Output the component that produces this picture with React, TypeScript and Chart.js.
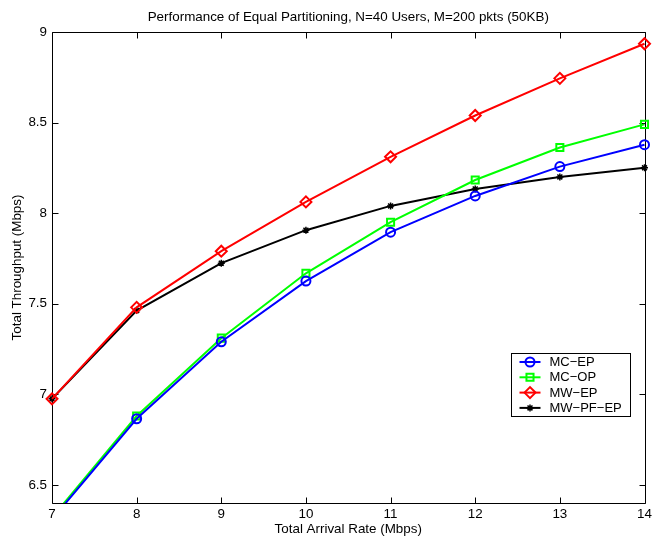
import React, { useEffect, useRef } from 'react';
import { Chart, registerables } from 'chart.js';
import { drawPoint } from 'chart.js/helpers';

Chart.register(...registerables);

const arrivalRates = [7, 8, 9, 10, 11, 12, 13, 14];
const mcEp = [6.31, 6.865, 7.29, 7.625, 7.895, 8.095, 8.257, 8.378];
const mcOp = [6.32, 6.88, 7.31, 7.668, 7.95, 8.183, 8.362, 8.49];
const mwEp = [6.975, 7.48, 7.79, 8.062, 8.311, 8.539, 8.744, 8.935];
const mwPfEp = [6.975, 7.462, 7.724, 7.906, 8.04, 8.133, 8.2, 8.25];
const xTicks = [7, 8, 9, 10, 11, 12, 13, 14];
const yTicks = [6.5, 7, 7.5, 8, 8.5, 9];
const seriesNames = ['MC\u2212EP', 'MC\u2212OP', 'MW\u2212EP', 'MW\u2212PF\u2212EP'];

const FONT = "'Liberation Sans', Arial, Helvetica, sans-serif";
const FS = 13.4;

const framePlugin = {
  id: 'matlabFrame',
  beforeDatasetsDraw(chart: any) {
    const { ctx, chartArea, scales } = chart;
    const l = Math.round(chartArea.left) + 0.5;
    const r = Math.round(chartArea.right) + 0.5;
    const t = Math.round(chartArea.top) + 0.5;
    const b = Math.round(chartArea.bottom) + 0.5;
    ctx.save();
    ctx.strokeStyle = '#000';
    ctx.lineWidth = 1;
    ctx.beginPath();
    ctx.rect(l, t, r - l, b - t);
    const tl = 6;
    xTicks.forEach((v) => {
      const px = Math.round(scales.x.getPixelForValue(v)) + 0.5;
      ctx.moveTo(px, b);
      ctx.lineTo(px, b - tl);
      ctx.moveTo(px, t);
      ctx.lineTo(px, t + tl);
    });
    yTicks.forEach((v) => {
      const py = Math.round(scales.y.getPixelForValue(v)) + 0.5;
      ctx.moveTo(l, py);
      ctx.lineTo(l + tl, py);
      ctx.moveTo(r, py);
      ctx.lineTo(r - tl, py);
    });
    ctx.stroke();
    ctx.restore();
  },
};

const legendPlugin = {
  id: 'boxLegend',
  afterDraw(chart: any) {
    const { ctx, chartArea } = chart;
    const w = 119;
    const h = 63;
    const x0 = Math.round(chartArea.right - 15 - w) + 0.5;
    const y0 = Math.round(chartArea.bottom - 87 - h) + 0.5;
    ctx.save();
    ctx.fillStyle = '#fff';
    ctx.fillRect(x0, y0, w, h);
    ctx.strokeStyle = '#000';
    ctx.lineWidth = 1;
    ctx.strokeRect(x0, y0, w, h);
    chart.data.datasets.forEach((ds: any, i: number) => {
      const cy = y0 + 8.5 + i * 15.3;
      ctx.strokeStyle = ds.borderColor;
      ctx.lineWidth = 2;
      ctx.beginPath();
      ctx.moveTo(x0 + 8, cy);
      ctx.lineTo(x0 + 29, cy);
      ctx.stroke();
      ctx.strokeStyle = ds.pointBorderColor;
      ctx.fillStyle = 'rgba(0,0,0,0)';
      ctx.lineWidth = ds.pointBorderWidth;
      drawPoint(ctx, { pointStyle: ds.pointStyle, radius: ds.pointRadius, borderWidth: ds.pointBorderWidth, rotation: 0 } as any, x0 + 18.5, cy);
      ctx.fillStyle = '#000';
      ctx.font = `13px ${FONT}`;
      ctx.textBaseline = 'middle';
      ctx.textAlign = 'left';
      ctx.fillText(ds.label, x0 + 38, cy + 0.5);
    });
    ctx.restore();
  },
};

function makeSeries(label: string, values: number[], color: string, style: string, radius: number, pbw: number) {
  return {
    label,
    data: arrivalRates.map((x, i) => ({ x, y: values[i] })),
    borderColor: color,
    backgroundColor: color,
    borderWidth: 2,
    pointStyle: style,
    pointRadius: radius,
    pointHoverRadius: radius,
    pointBorderColor: color,
    pointBackgroundColor: 'rgba(0,0,0,0)',
    pointBorderWidth: pbw,
    tension: 0,
    fill: false,
    clip: { left: 8, top: 8, right: 8, bottom: 0 },
  };
}

const noPadding = () => ({ left: 0, top: 0, right: 0, bottom: 0 });

export default function App() {
  const canvasRef = useRef<HTMLCanvasElement | null>(null);

  useEffect(() => {
    if (!canvasRef.current) return;
    const chart = new Chart(canvasRef.current, {
      type: 'line',
      data: {
        datasets: [
          makeSeries(seriesNames[0], mcEp, '#0000ff', 'circle', 4.5, 2),
          makeSeries(seriesNames[1], mcOp, '#00ff00', 'rect', 5, 2),
          makeSeries(seriesNames[2], mwEp, '#ff0000', 'rectRot', 5.5, 2),
          makeSeries(seriesNames[3], mwPfEp, '#000000', 'star', 3.5, 1.5),
        ] as any,
      },
      options: {
        responsive: false,
        animation: false,
        devicePixelRatio: 1,
        layout: { padding: { top: 0, right: 5, bottom: 0, left: 0 } },
        plugins: {
          legend: { display: false },
          tooltip: { enabled: false },
          title: {
            display: true,
            fullSize: false,
            text: 'Performance of Equal Partitioning, N=40 Users, M=200 pkts (50KB)',
            color: '#000',
            font: { family: FONT, size: FS, weight: 'normal' },
            padding: { top: 9, bottom: 6.9 },
          },
        },
        scales: {
          x: {
            type: 'linear',
            min: 7,
            max: 14,
            grid: { display: false, drawTicks: false, tickLength: 0 },
            border: { display: false },
            afterBuildTicks: (axis: any) => {
              axis.ticks = xTicks.map((v) => ({ value: v }));
            },
            afterFit: (axis: any) => {
              axis.height = 35;
              axis.paddingLeft = 0;
              axis.paddingRight = 0;
              axis.getPadding = noPadding;
            },
            ticks: {
              color: '#000',
              padding: 3,
              maxRotation: 0,
              autoSkip: false,
              font: { family: FONT, size: FS },
              callback: (v: any) => String(v),
            },
            title: {
              display: true,
              text: 'Total Arrival Rate (Mbps)',
              color: '#000',
              font: { family: FONT, size: FS },
              padding: { top: 0, bottom: 1 },
            },
          },
          y: {
            type: 'linear',
            min: 6.4,
            max: 9,
            grid: { display: false, drawTicks: false, tickLength: 0 },
            border: { display: false },
            afterBuildTicks: (axis: any) => {
              axis.ticks = yTicks.map((v) => ({ value: v }));
            },
            afterFit: (axis: any) => {
              axis.width = 52;
              axis.paddingTop = 0;
              axis.paddingBottom = 0;
              axis.getPadding = noPadding;
            },
            ticks: {
              color: '#000',
              padding: 5,
              autoSkip: false,
              font: { family: FONT, size: FS },
              callback: (v: any) => String(v),
            },
            title: {
              display: true,
              text: 'Total Throughput (Mbps)',
              color: '#000',
              font: { family: FONT, size: FS },
              padding: { top: 9, bottom: 0 },
            },
          },
        },
      } as any,
      plugins: [framePlugin, legendPlugin],
    });
    return () => chart.destroy();
  }, []);

  return (
    <div style={{ position: 'fixed', left: 0, top: 0, width: 652, height: 538, background: '#fff' }}>
      <canvas ref={canvasRef} width={652} height={538} style={{ display: 'block', width: 652, height: 538 }} />
    </div>
  );
}
